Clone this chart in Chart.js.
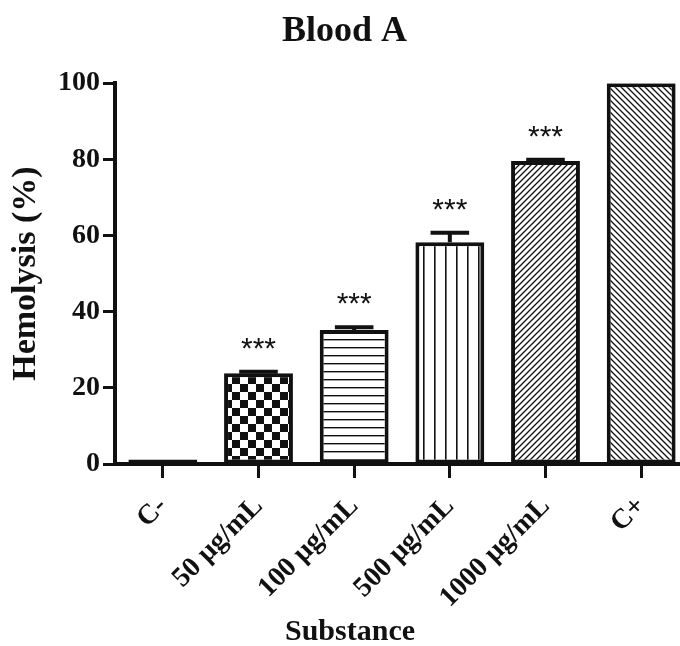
<!DOCTYPE html>
<html>
<head>
<meta charset="utf-8">
<script src="https://cdn.jsdelivr.net/npm/chart.js@4"></script>
<style>
  html, body { margin: 0; padding: 0; background: #fff; overflow: hidden; }
  #wrap { width: 689px; height: 646px; }
</style>
</head>
<body>
<div id="wrap"><canvas id="chartHemolysis" width="689" height="646"></canvas></div>
<script>
const categories = ["C-", "50 μg/mL", "100 μg/mL", "500 μg/mL", "1000 μg/mL", "C+"];
const hemolysis = [1.2, 23.8, 35.2, 58.2, 79.6, 100];
const hemolysisError = [0, 0.4, 0.7, 2.5, 0.3, 0];
const significance = ["", "***", "***", "***", "***", ""];
const yTicks = [0, 20, 40, 60, 80, 100];

const INK = "#111";
const SERIF = "'Liberation Serif', 'Times New Roman', serif";

const canvas = document.getElementById("chartHemolysis");
const ctx2d = canvas.getContext("2d");

function makePattern(size, draw) {
  const tile = document.createElement("canvas");
  tile.width = size;
  tile.height = size;
  const c = tile.getContext("2d");
  c.fillStyle = "#fff";
  c.fillRect(0, 0, size, size);
  c.fillStyle = INK;
  c.strokeStyle = INK;
  draw(c, size);
  return ctx2d.createPattern(tile, "repeat");
}

function diagonal(c, n, forward) {
  c.lineWidth = 1.3;
  c.beginPath();
  if (forward) {
    c.moveTo(0, n); c.lineTo(n, 0);
    c.moveTo(-1, 1); c.lineTo(1, -1);
    c.moveTo(n - 1, n + 1); c.lineTo(n + 1, n - 1);
  } else {
    c.moveTo(0, 0); c.lineTo(n, n);
    c.moveTo(-1, n - 1); c.lineTo(1, n + 1);
    c.moveTo(n - 1, -1); c.lineTo(n + 1, 1);
  }
  c.stroke();
}

const fills = [
  "#fff",
  makePattern(16, (c) => { c.fillRect(0, 0, 8, 8); c.fillRect(8, 8, 8, 8); }),
  makePattern(8, (c, n) => { c.fillRect(0, 3, n, 1.4); }),
  makePattern(11, (c, n) => { c.fillRect(5, 0, 1.6, n); }),
  makePattern(6, (c, n) => diagonal(c, n, true)),
  makePattern(6, (c, n) => diagonal(c, n, false))
];

const errorBarsPlugin = {
  id: "errorBars",
  afterDatasetsDraw(chart) {
    const { ctx } = chart;
    const y = chart.scales.y;
    const meta = chart.getDatasetMeta(0);
    ctx.save();
    meta.data.forEach((bar, i) => {
      const err = hemolysisError[i];
      const top = y.getPixelForValue(hemolysis[i] + err);
      if (err > 0) {
        const capHalf = bar.width * 0.28;
        ctx.strokeStyle = INK;
        ctx.lineWidth = 4;
        ctx.beginPath();
        ctx.moveTo(bar.x, bar.y);
        ctx.lineTo(bar.x, top);
        ctx.moveTo(bar.x - capHalf, top);
        ctx.lineTo(bar.x + capHalf, top);
        ctx.stroke();
      }
      if (significance[i]) {
        ctx.fillStyle = INK;
        ctx.font = "30px 'Liberation Sans', Arial, sans-serif";
        ctx.textAlign = "center";
        ctx.textBaseline = "alphabetic";
        ctx.fillText(significance[i], bar.x, top - 14);
      }
    });
    ctx.restore();
  }
};

const xTitlePlugin = {
  id: "xTitle",
  afterDraw(chart) {
    const { ctx } = chart;
    ctx.save();
    ctx.fillStyle = INK;
    ctx.font = "bold 30px " + SERIF;
    ctx.textAlign = "center";
    ctx.textBaseline = "middle";
    ctx.fillText("Substance", 350, 632);
    ctx.restore();
  }
};

new Chart(canvas, {
  type: "bar",
  data: {
    labels: categories,
    datasets: [
      {
        label: "Hemolysis (%)",
        data: hemolysis,
        backgroundColor: fills,
        borderColor: INK,
        borderWidth: 4,
        borderSkipped: false,
        barPercentage: 0.72,
        categoryPercentage: 1
      }
    ]
  },
  options: {
    responsive: false,
    animation: false,
    layout: { padding: 0 },
    plugins: {
      legend: { display: false },
      tooltip: { enabled: false },
      title: {
        display: true,
        text: "Blood A",
        color: INK,
        font: { family: SERIF, size: 36, weight: "bold" },
        padding: { top: 10, bottom: 30 }
      }
    },
    scales: {
      x: {
        offset: true,
        grid: { drawOnChartArea: false, offset: false, tickLength: 14, tickWidth: 3, tickColor: INK },
        border: { color: INK, width: 4 },
        ticks: {
          color: INK,
          font: { family: SERIF, size: 28, weight: "bold" },
          maxRotation: 45,
          minRotation: 45,
          autoSkip: false,
          padding: 12
        },
        afterFit: (scale) => { scale.height = 182; }
      },
      y: {
        min: 0,
        max: 100,
        afterBuildTicks: (scale) => { scale.ticks = yTicks.map((v) => ({ value: v })); },
        grid: { drawOnChartArea: false, tickLength: 12, tickWidth: 3, tickColor: INK },
        border: { color: INK, width: 4 },
        ticks: {
          color: INK,
          font: { family: SERIF, size: 28, weight: "bold" },
          padding: 3
        },
        title: {
          display: true,
          text: "Hemolysis (%)",
          color: INK,
          font: { family: SERIF, size: 34, weight: "bold" },
          padding: { top: 6, bottom: 0 }
        },
        afterFit: (scale) => { scale.width = 115; }
      }
    }
  },
  plugins: [errorBarsPlugin, xTitlePlugin]
});
</script>
</body>
</html>
